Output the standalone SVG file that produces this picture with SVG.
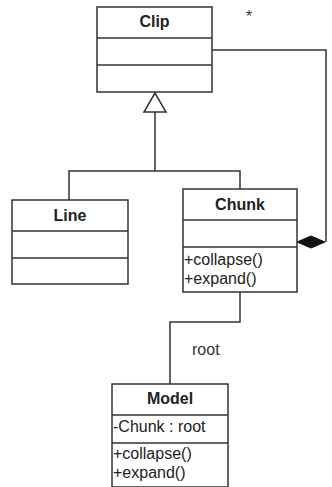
<svg xmlns="http://www.w3.org/2000/svg" width="332" height="487" viewBox="0 0 332 487">
  <style>
    .box { fill: #ffffff; stroke: #333333; stroke-width: 1.5; }
    .sep { stroke: #333333; stroke-width: 1.5; }
    .edge { fill: none; stroke: #333333; stroke-width: 1.5; }
    .title { font-family: "Liberation Sans", Arial, sans-serif; font-size: 16px; font-weight: bold; fill: #222222; text-anchor: middle; }
    .member { font-family: "Liberation Sans", Arial, sans-serif; font-size: 16px; fill: #222222; }
    .label { font-family: "Liberation Sans", Arial, sans-serif; font-size: 16px; fill: #333333; }
  </style>
  <rect width="332" height="487" fill="#ffffff"/>

  <g id="connectors">
    <!-- generalization: Line and Chunk extend Clip -->
    <polyline class="edge" points="69,200 69,171 240,171 240,189"/>
    <line class="edge" x1="155" y1="112" x2="155" y2="171"/>
    <polygon points="155,93 144,112 166,112" fill="#ffffff" stroke="#333333" stroke-width="1.5"/>
    <!-- composition: Chunk holds many Clips -->
    <polyline class="edge" points="212,50 326,50 326,242"/>
    <polygon points="297,242 311,236 325,242 311,248" fill="#111111" stroke="#111111" stroke-width="1"/>
    <text class="label" x="246" y="22" font-size="12">*</text>
    <!-- association: Model root -->
    <polyline class="edge" points="240,292 240,322 170,322 170,384"/>
    <text class="label" x="192" y="355">root</text>
  </g>

  <g id="clip">
    <rect class="box" x="97" y="7" width="115" height="85"/>
    <line class="sep" x1="97" y1="38" x2="212" y2="38"/>
    <line class="sep" x1="97" y1="65" x2="212" y2="65"/>
    <text class="title" x="154.5" y="27">Clip</text>
  </g>

  <g id="line">
    <rect class="box" x="12" y="200" width="116" height="84"/>
    <line class="sep" x1="12" y1="231" x2="128" y2="231"/>
    <line class="sep" x1="12" y1="258" x2="128" y2="258"/>
    <text class="title" x="70" y="221">Line</text>
  </g>

  <g id="chunk">
    <rect class="box" x="183" y="189" width="114" height="103"/>
    <line class="sep" x1="183" y1="220" x2="297" y2="220"/>
    <line class="sep" x1="183" y1="247" x2="297" y2="247"/>
    <text class="title" x="240" y="210">Chunk</text>
    <text class="member" x="184" y="265">+collapse()</text>
    <text class="member" x="184" y="284">+expand()</text>
  </g>

  <g id="model">
    <rect class="box" x="112" y="384" width="116" height="103"/>
    <line class="sep" x1="112" y1="415" x2="228" y2="415"/>
    <line class="sep" x1="112" y1="443" x2="228" y2="443"/>
    <text class="title" x="170" y="404">Model</text>
    <text class="member" x="113" y="432">-Chunk : root</text>
    <text class="member" x="113" y="459">+collapse()</text>
    <text class="member" x="113" y="478">+expand()</text>
  </g>
</svg>
